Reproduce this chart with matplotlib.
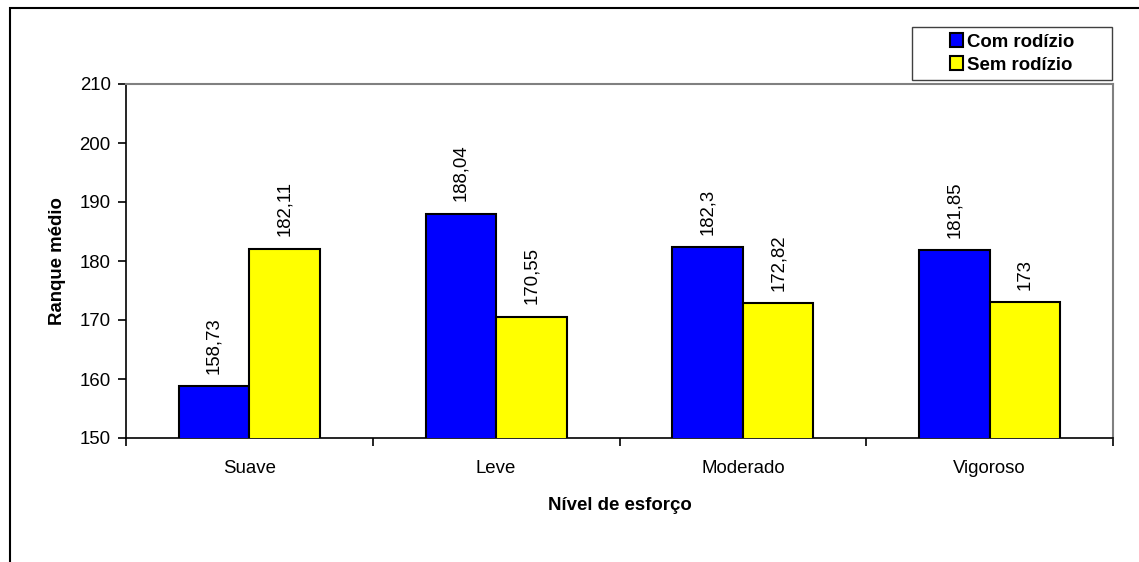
import matplotlib
matplotlib.use("Agg")
import matplotlib.pyplot as plt
from matplotlib.patches import Rectangle
import numpy as np

plt.rcParams['font.family'] = ['Liberation Sans', 'DejaVu Sans']

categories = ["Suave", "Leve", "Moderado", "Vigoroso"]
com_rodizio = [158.73, 188.04, 182.3, 181.85]
sem_rodizio = [182.11, 170.55, 172.82, 173]
series_names = ["Com rodízio", "Sem rodízio"]
yticks = [150, 160, 170, 180, 190, 200, 210]

W, H = 1139, 562
fig = plt.figure(figsize=(W / 100, H / 100), dpi=100)
fs = 13.4

# outer frame of the chart object
fig.patches.append(Rectangle((10 / W, -0.1), 2.0, 1 - 8 / H + 0.1,
                             transform=fig.transFigure, fill=False,
                             edgecolor='black', linewidth=1.5))

ax = fig.add_axes([126 / W, 1 - 438 / H, (1113 - 126) / W, (438 - 84) / H])

x = np.arange(len(categories))
bw = 0.286
b1 = ax.bar(x - bw / 2, com_rodizio, bw, color='#0000FF',
            edgecolor='black', linewidth=1.5, label=series_names[0], zorder=3)
b2 = ax.bar(x + bw / 2, sem_rodizio, bw, color='#FFFF00',
            edgecolor='black', linewidth=1.5, label=series_names[1], zorder=3)

def fmt(v):
    s = f"{v:.2f}".rstrip('0').rstrip('.')
    return s.replace('.', ',')

for bars, vals in ((b1, com_rodizio), (b2, sem_rodizio)):
    for rect, v in zip(bars, vals):
        ax.annotate(fmt(v), (rect.get_x() + rect.get_width() / 2, v),
                    xytext=(0, 9), textcoords='offset points',
                    rotation=90, ha='center', va='bottom', fontsize=fs)

ax.set_ylim(150, 210)
ax.set_xlim(-0.5, len(categories) - 0.5)
ax.set_yticks(yticks)
ax.set_yticklabels([str(t) for t in yticks], fontsize=fs)
ax.set_xticks(x)
ax.set_xticklabels(categories, fontsize=fs)
ax.tick_params(axis='x', length=0, pad=16)
ax.set_xticks(np.arange(-0.5, len(categories)), minor=True)
ax.tick_params(axis='x', which='minor', length=6, width=1.2, direction='out')
ax.tick_params(axis='y', length=6, width=1.2, direction='out', pad=5)

for s in ('top', 'right'):
    ax.spines[s].set_color('#808080')
    ax.spines[s].set_linewidth(1.5)
for s in ('left', 'bottom'):
    ax.spines[s].set_color('black')
    ax.spines[s].set_linewidth(1.2)

ax.set_ylabel("Ranque médio", fontsize=fs, fontweight='bold', labelpad=10)
ax.set_xlabel("Nível de esforço", fontsize=fs, fontweight='bold', labelpad=14)

# legend box
lx0, lx1, ly0, ly1 = 912, 1112, 27, 80
fig.patches.append(Rectangle((lx0 / W, 1 - ly1 / H), (lx1 - lx0) / W,
                             (ly1 - ly0) / H, transform=fig.transFigure,
                             facecolor='white', edgecolor='#404040',
                             linewidth=1.0))
leg = fig.legend(handles=[b1, b2], loc='center',
                 bbox_to_anchor=((lx0 + lx1) / 2 / W, 1 - (ly0 + ly1) / 2 / H),
                 frameon=False,
                 prop={'weight': 'bold', 'size': fs},
                 handlelength=0.7, handleheight=0.7, handletextpad=0.2,
                 borderpad=0, labelspacing=0.32, borderaxespad=0)

fig.savefig("out.png", dpi=100)
